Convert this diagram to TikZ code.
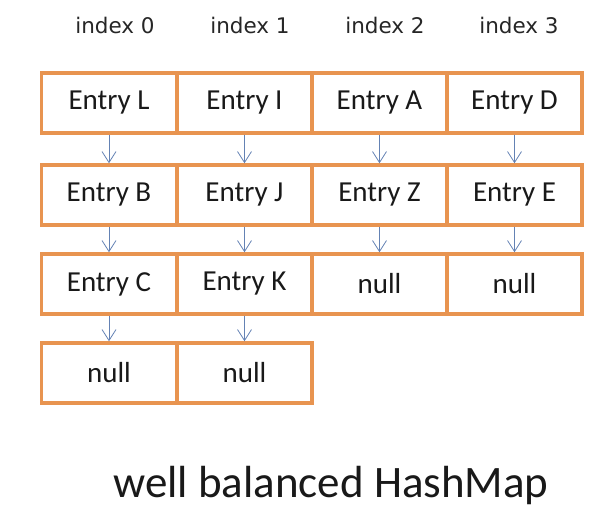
\documentclass[tikz,border=0pt]{standalone}
\usepackage{fontspec}
\setmainfont{Carlito}
\newfontfamily\idxfont{DejaVu Sans}
\usetikzlibrary{arrows.meta}
\definecolor{boxorange}{RGB}{232,148,80}
\definecolor{arrowblue}{RGB}{100,130,180}

\begin{document}
\begin{tikzpicture}[x=1pt,y=-1pt,
    cell/.style={draw=boxorange, line width=3.5pt, minimum width=135pt, minimum height=60pt, inner sep=0pt, font=\fontsize{29}{32}\selectfont, text=black!90},
    idx/.style={font=\idxfont\fontsize{21.5}{24}\selectfont, text=black!85},
    link/.style={draw=arrowblue, line width=0.8pt, -{Straight Barb[length=11pt,width=14pt]}}]
    \useasboundingbox (0,0) rectangle (603,523);

    % Index labels
    \node[idx] (idx0) at (115,25) {index 0};
    \node[idx] (idx1) at (250,25) {index 1};
    \node[idx] (idx2) at (385,25) {index 2};
    \node[idx] (idx3) at (519,25) {index 3};

    % Bucket cells
    \node[cell] (L) at (109,103) {Entry L};
    \node[cell] (I) at (244.5,103) {Entry I};
    \node[cell] (A) at (379.5,103) {Entry A};
    \node[cell] (D) at (514.5,103) {Entry D};

    \node[cell] (B) at (109,195) {Entry B};
    \node[cell] (J) at (244.5,195) {Entry J};
    \node[cell] (Z) at (379.5,195) {Entry Z};
    \node[cell] (E) at (514.5,195) {Entry E};

    \node[cell] (C) at (109,284) {Entry C};
    \node[cell] (K) at (244.5,284) {Entry K};
    \node[cell] (null2) at (379.5,284) {null};
    \node[cell] (null3) at (514.5,284) {null};

    \node[cell] (null0) at (109,373) {null};
    \node[cell] (null1) at (244.5,373) {null};

    % Chains
    \draw[link] (L) -- (B);
    \draw[link] (I) -- (J);
    \draw[link] (A) -- (Z);
    \draw[link] (D) -- (E);
    \draw[link] (B) -- (C);
    \draw[link] (J) -- (K);
    \draw[link] (Z) -- (null2);
    \draw[link] (E) -- (null3);
    \draw[link] (C) -- (null0);
    \draw[link] (K) -- (null1);

    % Caption
    \node[font=\fontsize{45}{50}\selectfont, text=black!90] (title) at (331,485) {well balanced HashMap};
\end{tikzpicture}
\end{document}
